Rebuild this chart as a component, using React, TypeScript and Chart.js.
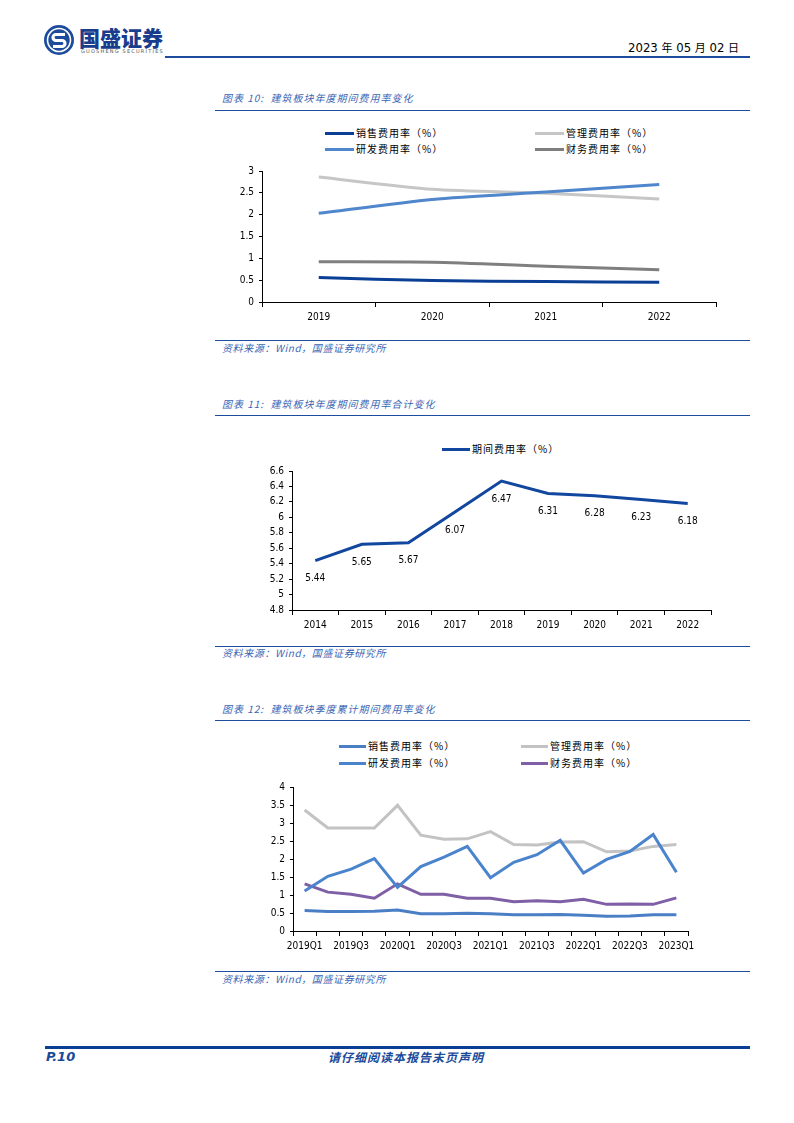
import React, { useEffect, useRef } from "react";
import { Chart, registerables } from "chart.js";

Chart.register(...registerables);

// ---- 图表10 年度期间费用率 ----
const years10 = ["2019", "2020", "2021", "2022"];
const sales10 = [0.56, 0.49, 0.47, 0.45];
const admin10 = [2.86, 2.58, 2.49, 2.36];
const rnd10 = [2.03, 2.35, 2.52, 2.69];
const fin10 = [0.92, 0.91, 0.82, 0.74];
const yTicks10 = { min: 0, max: 3, step: 0.5 };

// ---- 图表11 年度期间费用率合计 ----
const years11 = ["2014", "2015", "2016", "2017", "2018", "2019", "2020", "2021", "2022"];
const total11 = [5.44, 5.65, 5.67, 6.07, 6.47, 6.31, 6.28, 6.23, 6.18];
const yTicks11 = { min: 4.8, max: 6.6, step: 0.2 };

// ---- 图表12 季度累计期间费用率 ----
const quarters12 = [
  "2019Q1", "2019Q2", "2019Q3", "2019Q4",
  "2020Q1", "2020Q2", "2020Q3", "2020Q4",
  "2021Q1", "2021Q2", "2021Q3", "2021Q4",
  "2022Q1", "2022Q2", "2022Q3", "2022Q4",
  "2023Q1",
];
const sales12 = [0.57, 0.54, 0.54, 0.55, 0.58, 0.48, 0.48, 0.49, 0.48, 0.45, 0.45, 0.46, 0.44, 0.41, 0.42, 0.45, 0.45];
const admin12 = [3.36, 2.86, 2.86, 2.86, 3.49, 2.66, 2.55, 2.56, 2.76, 2.4, 2.39, 2.47, 2.48, 2.2, 2.22, 2.35, 2.4];
const rnd12 = [1.11, 1.52, 1.72, 2.01, 1.21, 1.79, 2.05, 2.35, 1.48, 1.91, 2.12, 2.52, 1.61, 1.99, 2.21, 2.68, 1.63];
const fin12 = [1.31, 1.08, 1.02, 0.91, 1.31, 1.02, 1.02, 0.91, 0.91, 0.81, 0.84, 0.81, 0.88, 0.74, 0.75, 0.74, 0.92];
const yTicks12 = { min: 0, max: 4, step: 0.5 };

const NUM_FONT = "'DejaVu Sans Condensed', 'DejaVu Sans', sans-serif";
const CJK_FONT = "'Noto Sans CJK SC', sans-serif";
const BRAND = "#1d4c9c";
const CAPTION = "#3b66b4";

type Box = { left: number; top: number; width: number; height: number };
type Plot = { left: number; top: number; right: number; bottom: number };

// tick values printed without trailing zeros: 3, 2.5, 6, 5.8 ...
const trimNumber = (v: any) => String(Number(Number(v).toFixed(2)));

function axisOptions(box: Box, plot: Plot, yt: { min: number; max: number; step: number }, xCallback?: (v: any, i: number) => string) {
  return {
    x: {
      type: "category" as const,
      offset: true,
      border: { display: true, color: "#000", width: 1 },
      grid: { display: true, offset: true, drawOnChartArea: false, drawTicks: true, tickLength: 5, color: "#000", lineWidth: 1 },
      ticks: {
        color: "#000",
        font: { family: NUM_FONT, size: 10 },
        padding: 4,
        maxRotation: 0,
        autoSkip: false,
        ...(xCallback ? { callback: xCallback } : {}),
      },
      afterFit: (s: any) => {
        s.height = box.top + box.height - plot.bottom;
      },
    },
    y: {
      min: yt.min,
      max: yt.max,
      border: { display: true, color: "#000", width: 1 },
      grid: { display: true, drawOnChartArea: false, drawTicks: true, tickLength: 3, color: "#000", lineWidth: 1 },
      ticks: {
        stepSize: yt.step,
        color: "#000",
        font: { family: NUM_FONT, size: 10 },
        padding: 5,
        callback: trimNumber,
      },
      afterFit: (s: any) => {
        s.width = plot.left - box.left;
      },
    },
  };
}

function layoutPadding(box: Box, plot: Plot) {
  return { top: plot.top - box.top, right: box.left + box.width - plot.right, left: 0, bottom: 0 };
}

function ChartCanvas({ box, config }: { box: Box; config: any }) {
  const ref = useRef<HTMLCanvasElement | null>(null);
  useEffect(() => {
    if (!ref.current) return;
    const chart = new Chart(ref.current, config);
    return () => chart.destroy();
  }, []);
  return (
    <div style={{ position: "absolute", left: box.left, top: box.top, width: box.width, height: box.height }}>
      <canvas ref={ref} width={box.width} height={box.height} />
    </div>
  );
}

// value labels drawn under each point of the total-rate line
const pointLabels = {
  id: "pointLabels",
  afterDatasetsDraw(chart: any) {
    const ctx = chart.ctx;
    const meta = chart.getDatasetMeta(0);
    const data = chart.data.datasets[0].data as number[];
    ctx.save();
    ctx.font = `10px ${NUM_FONT}`;
    ctx.fillStyle = "#000";
    ctx.textAlign = "center";
    ctx.textBaseline = "middle";
    meta.data.forEach((pt: any, i: number) => {
      ctx.fillText(data[i].toFixed(2), pt.x, pt.y + 18);
    });
    ctx.restore();
  },
};

type LegendItem = { label: string; color: string; x: number; y: number };

function Legend({ items, lineW }: { items: LegendItem[]; lineW: number }) {
  return (
    <>
      {items.map((it) => (
        <div
          key={it.label + it.x + it.y}
          style={{ position: "absolute", left: it.x, top: it.y - 7, height: 14, display: "flex", alignItems: "center", whiteSpace: "nowrap" }}
        >
          <div style={{ width: lineW, height: 3, background: it.color }} />
          <span style={{ marginLeft: 2, font: `10px ${CJK_FONT}`, color: "#000", letterSpacing: "1px", lineHeight: "14px" }}>{it.label}</span>
        </div>
      ))}
    </>
  );
}

function Caption({ top, text, spacing = 1 }: { top: number; text: string; spacing?: number }) {
  return (
    <div
      style={{
        position: "absolute",
        left: 222,
        top: top - 7,
        font: `italic 10px ${CJK_FONT}`,
        color: CAPTION,
        lineHeight: "14px",
        letterSpacing: `${spacing}px`,
        whiteSpace: "pre",
      }}
    >
      {text}
    </div>
  );
}

function Rule({ top, left = 215, right = 750, h = 1, color = BRAND }: { top: number; left?: number; right?: number; h?: number; color?: string }) {
  return <div style={{ position: "absolute", left, top, width: right - left, height: h, background: color }} />;
}

const SALES = "销售费用率（%）";
const ADMIN = "管理费用率（%）";
const RND = "研发费用率（%）";
const FIN = "财务费用率（%）";
const TOTAL = "期间费用率（%）";
const SOURCE = "资料来源：Wind，国盛证券研究所";

export default function App() {
  const line = (label: string, data: number[], color: string, tension = 0, order = 0) => ({
    label,
    data,
    borderColor: color,
    backgroundColor: color,
    borderWidth: 3,
    pointRadius: 0,
    tension,
    order,
    fill: false,
  });

  // ---------- chart 10 ----------
  const box10: Box = { left: 215, top: 160, width: 535, height: 180 };
  const plot10: Plot = { left: 262, top: 170, right: 716, bottom: 302 };
  const c10 = {
    sales: "#0b3f96",
    admin: "#c6c6c6",
    rnd: "#4f86cc",
    fin: "#7f7f7f",
  };
  const config10 = {
    type: "line",
    data: {
      labels: years10,
      datasets: [
        line(SALES, sales10, c10.sales, 0.25, 0),
        line(RND, rnd10, c10.rnd, 0.25, 1),
        line(ADMIN, admin10, c10.admin, 0.25, 2),
        line(FIN, fin10, c10.fin, 0.25, 3),
      ],
    },
    options: {
      responsive: false,
      animation: false,
      layout: { padding: layoutPadding(box10, plot10) },
      plugins: { legend: { display: false }, tooltip: { enabled: false } },
      scales: axisOptions(box10, plot10, yTicks10),
    },
  };

  // ---------- chart 11 ----------
  const box11: Box = { left: 215, top: 460, width: 535, height: 180 };
  const plot11: Plot = { left: 292, top: 470, right: 711, bottom: 610 };
  const c11 = "#11479e";
  const config11 = {
    type: "line",
    data: { labels: years11, datasets: [line(TOTAL, total11, c11, 0, 0)] },
    options: {
      responsive: false,
      animation: false,
      layout: { padding: layoutPadding(box11, plot11) },
      plugins: { legend: { display: false }, tooltip: { enabled: false } },
      scales: axisOptions(box11, plot11, yTicks11),
    },
    plugins: [pointLabels],
  };

  // ---------- chart 12 ----------
  const box12: Box = { left: 215, top: 776, width: 535, height: 190 };
  const plot12: Plot = { left: 293, top: 786, right: 688, bottom: 931 };
  const c12 = {
    sales: "#4a7fc6",
    admin: "#c3c3c3",
    rnd: "#4a84cc",
    fin: "#7f5fa6",
  };
  const config12 = {
    type: "line",
    data: {
      labels: quarters12,
      datasets: [
        line(SALES, sales12, c12.sales, 0, 1),
        line(ADMIN, admin12, c12.admin, 0, 3),
        line(RND, rnd12, c12.rnd, 0, 0),
        line(FIN, fin12, c12.fin, 0, 2),
      ],
    },
    options: {
      responsive: false,
      animation: false,
      layout: { padding: layoutPadding(box12, plot12) },
      plugins: { legend: { display: false }, tooltip: { enabled: false } },
      scales: axisOptions(box12, plot12, yTicks12, (_v: any, i: number) => (i % 2 === 0 ? quarters12[i] : "")),
    },
  };

  return (
    <div style={{ position: "absolute", left: 0, top: 0, width: 794, height: 1123, background: "#fff", overflow: "hidden" }}>
      {/* header */}
      <svg style={{ position: "absolute", left: 43, top: 24 }} width={32} height={32} viewBox="0 0 32 32">
        <circle cx="16" cy="16" r="15" fill={BRAND} />
        <circle cx="16" cy="16" r="11.5" fill="none" stroke="#fff" strokeWidth="1.6" />
        <path d="M22 10.5 H13 a3 3 0 0 0 0 6 h6 a3 3 0 0 1 0 6 H10" fill="none" stroke="#fff" strokeWidth="3.2" strokeLinecap="butt" />
      </svg>
      <div style={{ position: "absolute", left: 79, top: 25, font: `900 21px ${CJK_FONT}`, color: "#1a3c8c", lineHeight: "24px", whiteSpace: "nowrap" }}>
        国盛证券
      </div>
      <div style={{ position: "absolute", left: 81, top: 48, font: `5px 'DejaVu Sans', sans-serif`, color: "#555", lineHeight: "6px", letterSpacing: "1.2px", whiteSpace: "nowrap" }}>
        GUOSHENG SECURITIES
      </div>
      <div style={{ position: "absolute", left: 628, top: 38, lineHeight: "18px", whiteSpace: "nowrap", color: "#000" }}>
        <span style={{ font: `13px ${NUM_FONT}` }}>2023 </span>
        <span style={{ font: `11px ${CJK_FONT}` }}>年</span>
        <span style={{ font: `13px ${NUM_FONT}` }}> 05 </span>
        <span style={{ font: `11px ${CJK_FONT}` }}>月</span>
        <span style={{ font: `13px ${NUM_FONT}` }}> 02 </span>
        <span style={{ font: `11px ${CJK_FONT}` }}>日</span>
      </div>
      <Rule top={56} left={165} right={750} h={2} color={BRAND} />

      {/* 图表10 */}
      <Caption top={98} text="图表 10:  建筑板块年度期间费用率变化" />
      <Rule top={110} />
      <Legend
        lineW={29}
        items={[
          { label: SALES, color: c10.sales, x: 325, y: 133 },
          { label: ADMIN, color: c10.admin, x: 535, y: 133 },
          { label: RND, color: c10.rnd, x: 325, y: 149 },
          { label: FIN, color: c10.fin, x: 535, y: 149 },
        ]}
      />
      <ChartCanvas box={box10} config={config10} />
      <Rule top={340} />
      <Caption top={348} text={SOURCE} spacing={0.6} />

      {/* 图表11 */}
      <Caption top={404} text="图表 11:  建筑板块年度期间费用率合计变化" />
      <Rule top={415} />
      <Legend lineW={28} items={[{ label: TOTAL, color: c11, x: 442, y: 449 }]} />
      <ChartCanvas box={box11} config={config11} />
      <Rule top={646} />
      <Caption top={653} text={SOURCE} spacing={0.6} />

      {/* 图表12 */}
      <Caption top={709} text="图表 12:  建筑板块季度累计期间费用率变化" />
      <Rule top={720} />
      <Legend
        lineW={27}
        items={[
          { label: SALES, color: c12.sales, x: 339, y: 746 },
          { label: ADMIN, color: c12.admin, x: 521, y: 746 },
          { label: RND, color: c12.rnd, x: 339, y: 763 },
          { label: FIN, color: c12.fin, x: 521, y: 763 },
        ]}
      />
      <ChartCanvas box={box12} config={config12} />
      <Rule top={971} />
      <Caption top={979} text={SOURCE} spacing={0.6} />

      {/* footer */}
      <Rule top={1046} left={45} right={750} h={3} color="#0b3f96" />
      <div style={{ position: "absolute", left: 46, top: 1049, font: `italic bold 13px 'DejaVu Sans', sans-serif`, color: "#1a4a9a", lineHeight: "16px" }}>
        P.10
      </div>
      <div style={{ position: "absolute", left: 328, top: 1049, font: `italic bold 12px ${CJK_FONT}`, color: "#1a4a9a", lineHeight: "16px", letterSpacing: "1px", whiteSpace: "nowrap" }}>
        请仔细阅读本报告末页声明
      </div>
    </div>
  );
}
